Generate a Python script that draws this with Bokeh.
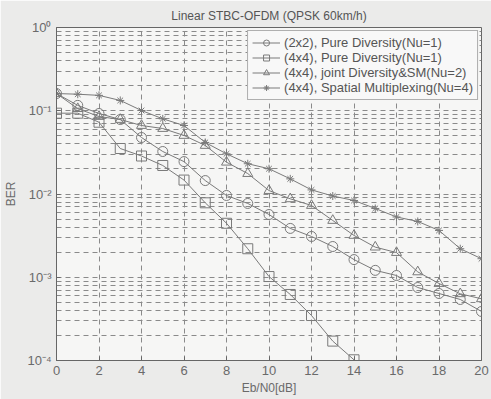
from bokeh.plotting import figure
from bokeh.models import FixedTicker, CustomJSTickFormatter, Legend, LegendItem
from bokeh.embed import file_html
from bokeh.resources import INLINE

ebn0 = list(range(0, 21))
ber_2x2_div = [0.161, 0.116, 0.0927, 0.0785, 0.0477, 0.0324, 0.0245, 0.0145, 0.0096, 0.0077,
               0.00567, 0.00386, 0.00309, 0.00234, 0.00163, 0.00121, 0.00105, 0.000753,
               0.000638, 0.000541, 0.000388]
ebn0_4x4_div = list(range(0, 15))
ber_4x4_div = [0.0935, 0.0935, 0.0728, 0.0352, 0.0286, 0.0220, 0.0147, 0.00784, 0.00445,
               0.00220, 0.00102, 0.000621, 0.000347, 0.000171, 0.000102]
ber_4x4_joint = [0.161, 0.106, 0.0853, 0.0785, 0.0665, 0.0612, 0.0505, 0.0383, 0.0241, 0.0176,
                 0.0110, 0.00875, 0.00728, 0.00481, 0.00318, 0.00230, 0.00198, 0.00116,
                 0.000841, 0.000633, 0.000551]
ber_4x4_sm = [0.161, 0.158, 0.153, 0.133, 0.1007, 0.080, 0.0665, 0.0416, 0.0304, 0.0231,
              0.0201, 0.0152, 0.0112, 0.00946, 0.00836, 0.0067, 0.0053, 0.00468, 0.00365,
              0.0022, 0.00167]
labels = ["(2x2), Pure Diversity(Nu=1)", "(4x4), Pure Diversity(Nu=1)",
          "(4x4), joint Diversity&SM(Nu=2)", "(4x4), Spatial Multiplexing(Nu=4)"]
x_ticks = list(range(0, 21, 2))
y_ticks = [1e-4, 1e-3, 1e-2, 1e-1, 1.0]

FONT = "Liberation Sans"
GRAY = "#6a6a6a"

p = figure(width=491, height=399, y_axis_type="log", x_range=(0, 20), y_range=(1e-4, 1),
           output_backend="svg", toolbar_location=None,
           min_border_left=56, min_border_right=10, min_border_top=27, min_border_bottom=39,
           title="Linear STBC-OFDM (QPSK 60km/h)")
p.title.align = "center"
p.title.text_font = FONT
p.title.text_font_size = "12px"
p.title.text_font_style = "normal"
p.title.text_color = "#555555"
p.title.offset = 0
p.border_fill_color = "#ebebea"
p.background_fill_color = "#f6f6f5"
p.outline_line_color = "#666666"
p.outline_line_width = 1

minor = []
for d in [1e-4, 1e-3, 1e-2, 1e-1]:
    minor += [d * k for k in range(2, 10)]
p.yaxis.ticker = FixedTicker(ticks=y_ticks, minor_ticks=minor)
p.xaxis.ticker = FixedTicker(ticks=x_ticks)
p.yaxis.formatter = CustomJSTickFormatter(code="""
const e = Math.round(Math.log10(tick));
const sup = {'0':'\u2070','1':'\u00b9','2':'\u00b2','3':'\u00b3','4':'\u2074','-':'\u207b'};
return '10' + String(e).split('').map(c => sup[c]).join('');
""")

for ax in [p.xaxis[0], p.yaxis[0]]:
    ax.axis_line_color = "#666666"
    ax.major_tick_in = 4
    ax.major_tick_out = 0
    ax.minor_tick_in = 0
    ax.minor_tick_out = 0
    ax.major_tick_line_color = "#666666"
    ax.major_label_text_font = FONT
    ax.major_label_text_font_size = "13px"
    ax.major_label_text_color = GRAY
    ax.axis_label_text_font = FONT
    ax.axis_label_text_font_size = "12px"
    ax.axis_label_text_font_style = "normal"
    ax.axis_label_text_color = GRAY
p.xaxis.axis_label = "Eb/N0[dB]"
p.yaxis.axis_label = "BER"
p.xaxis.axis_label_standoff = 3
p.yaxis.axis_label_standoff = 6

grid_col = "#8a8a8a"
p.xgrid.grid_line_color = grid_col
p.xgrid.grid_line_dash = "5 4"
p.ygrid.grid_line_color = grid_col
p.ygrid.grid_line_dash = "5 4"
p.ygrid.minor_grid_line_color = grid_col
p.ygrid.minor_grid_line_dash = "5 4"

LC = "#7a7a7a"
r1l = p.line(ebn0, ber_2x2_div, line_color=LC, line_width=1)
r1m = p.scatter(ebn0, ber_2x2_div, marker="circle", size=10, fill_color=None, line_color=LC)
r2l = p.line(ebn0_4x4_div, ber_4x4_div, line_color=LC, line_width=1)
r2m = p.scatter(ebn0_4x4_div, ber_4x4_div, marker="square", size=10, fill_color=None, line_color=LC)
r3l = p.line(ebn0, ber_4x4_joint, line_color=LC, line_width=1)
r3m = p.scatter(ebn0, ber_4x4_joint, marker="triangle", size=10, fill_color=None, line_color=LC)
r4l = p.line(ebn0, ber_4x4_sm, line_color=LC, line_width=1)
r4m = p.scatter(ebn0, ber_4x4_sm, marker="asterisk", size=8, fill_color=None, line_color=LC)

legend = Legend(items=[
    LegendItem(label=labels[0], renderers=[r1l, r1m]),
    LegendItem(label=labels[1], renderers=[r2l, r2m]),
    LegendItem(label=labels[2], renderers=[r3l, r3m]),
    LegendItem(label=labels[3], renderers=[r4l, r4m]),
], location="top_right")
legend.label_text_font = FONT
legend.label_text_font_size = "13px"
legend.label_text_color = "#555555"
legend.background_fill_color = "#f8f8f8"
legend.background_fill_alpha = 1.0
legend.border_line_color = "#666666"
legend.margin = 3
legend.padding = 4
legend.spacing = 0
legend.label_height = 15
legend.glyph_height = 15
legend.glyph_width = 28
legend.label_standoff = 4
p.add_layout(legend)

open("out.html", "w").write(file_html(p, INLINE))
